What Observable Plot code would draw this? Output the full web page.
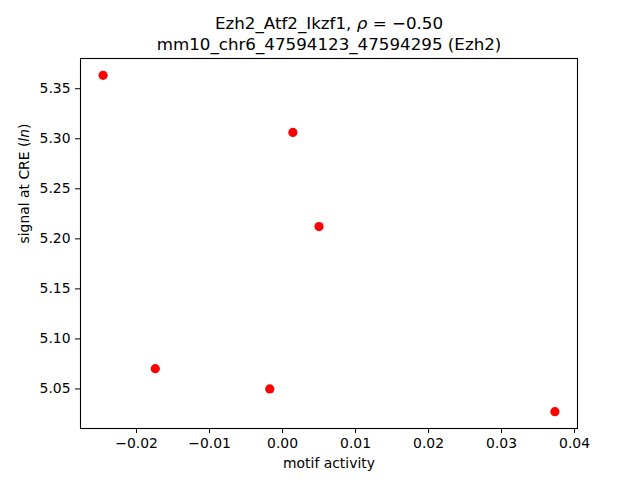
<!DOCTYPE html>
<html>
<head>
<meta charset="utf-8">
<script src="https://cdn.jsdelivr.net/npm/d3@7"></script>
<script src="https://cdn.jsdelivr.net/npm/@observablehq/plot@0.6"></script>
<style>
  html, body { margin: 0; padding: 0; background: #fff; }
</style>
</head>
<body>
<div id="chart"></div>
<script>
const motifActivity = [-0.02458, -0.01743, -0.00175, 0.00142, 0.00500, 0.03731];
const signalAtCRE   = [5.3634, 5.0703, 5.0500, 5.3063, 5.2123, 5.0273];
const xTicks = [-0.02, -0.01, 0.00, 0.01, 0.02, 0.03, 0.04];
const yTicks = [5.05, 5.10, 5.15, 5.20, 5.25, 5.30, 5.35];
const titleLines = ["Ezh2_Atf2_Ikzf1, ρ = −0.50", "mm10_chr6_47594123_47594295 (Ezh2)"];
const xLabel = "motif activity";
const yLabel = "signal at CRE (ln)";

const data = motifActivity.map((x, i) => ({x, y: signalAtCRE[i]}));

const xmin = d3.min(motifActivity), xmax = d3.max(motifActivity);
const ymin = d3.min(signalAtCRE), ymax = d3.max(signalAtCRE);
const xpad = (xmax - xmin) * 0.05, ypad = (ymax - ymin) * 0.05;
const fmt = d3.format(".2f");

const chart = Plot.plot({
  width: 640,
  height: 480,
  marginLeft: 80,
  marginRight: 63,
  marginTop: 58,
  marginBottom: 52,
  style: {fontFamily: "DejaVu Sans", fontSize: "13.9px", color: "black", background: "white"},
  x: {domain: [xmin - xpad, xmax + xpad]},
  y: {domain: [ymin - ypad, ymax + ypad]},
  marks: [
    Plot.frame({stroke: "black", strokeWidth: 1.1}),
    Plot.axisX({ticks: xTicks, tickFormat: fmt, tickSize: 5, tickPadding: 5, label: null, fontSize: 13.9}),
    Plot.axisY({ticks: yTicks, tickFormat: fmt, tickSize: 5, tickPadding: 5, label: null, fontSize: 13.9}),
    Plot.dot(data, {x: "x", y: "y", r: 4.6, fill: "#ff0000", stroke: null}),
    Plot.text([titleLines[0]], {text: d => d, frameAnchor: "top", dy: -35, fontSize: 16.7, lineAnchor: "middle", className: "title1"}),
    Plot.text([titleLines[1]], {text: d => d, frameAnchor: "top", dy: -14, fontSize: 16.7, lineAnchor: "middle"}),
    Plot.text([xLabel], {text: d => d, frameAnchor: "bottom", dy: 35, fontSize: 13.9, lineAnchor: "middle"}),
    Plot.text([yLabel], {text: d => d, frameAnchor: "left", dx: -56, rotate: -90, fontSize: 13.9, lineAnchor: "middle", className: "ylab"})
  ]
});
document.getElementById("chart").appendChild(chart);

// italicize math symbols
const t1 = chart.querySelector(".title1 text");
if (t1) {
  const s = t1.textContent;
  const i = s.indexOf("ρ");
  t1.textContent = "";
  const a = document.createElementNS("http://www.w3.org/2000/svg", "tspan"); a.textContent = s.slice(0, i);
  const b = document.createElementNS("http://www.w3.org/2000/svg", "tspan"); b.textContent = "ρ"; b.setAttribute("font-style", "italic");
  const c = document.createElementNS("http://www.w3.org/2000/svg", "tspan"); c.textContent = s.slice(i + 1);
  t1.append(a, b, c);
}
const yl = chart.querySelector(".ylab text");
if (yl) {
  const s = yl.textContent;
  const i = s.indexOf("ln");
  yl.textContent = "";
  const a = document.createElementNS("http://www.w3.org/2000/svg", "tspan"); a.textContent = s.slice(0, i);
  const b = document.createElementNS("http://www.w3.org/2000/svg", "tspan"); b.textContent = "ln"; b.setAttribute("font-style", "italic");
  const c = document.createElementNS("http://www.w3.org/2000/svg", "tspan"); c.textContent = s.slice(i + 2);
  yl.append(a, b, c);
}
</script>
</body>
</html>
